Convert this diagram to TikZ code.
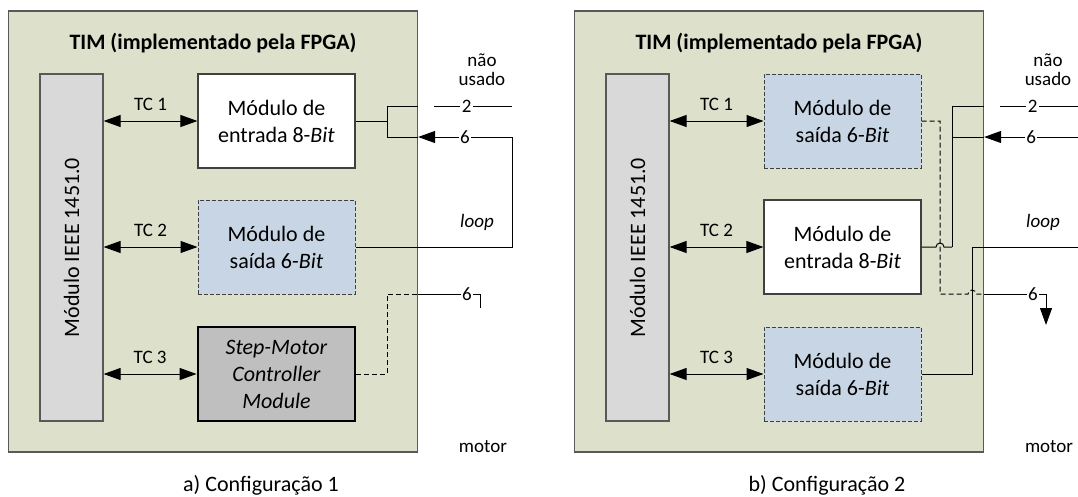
\documentclass[tikz,border=0pt]{standalone}
\usepackage{fontspec}
\setmainfont{Carlito}
\usepackage{tikz}
\usetikzlibrary{arrows.meta}
\definecolor{timfill}{RGB}{221,225,204}
\definecolor{colfill}{RGB}{217,217,217}
\definecolor{outfill}{RGB}{200,213,228}
\definecolor{motfill}{RGB}{191,191,191}
\definecolor{edge}{RGB}{89,89,89}
\newcommand{\bigtxt}{\fontsize{22}{27}\selectfont}
\newcommand{\smalltxt}{\fontsize{19}{19}\selectfont}
\tikzstyle{frame}=[draw=edge, line width=1.2pt, fill=timfill, minimum width=409pt, minimum height=441pt, inner sep=0pt]
\tikzstyle{heading}=[font=\bigtxt\bfseries]
\tikzstyle{ieee}=[draw=edge, line width=1.2pt, fill=colfill, minimum width=63pt, minimum height=347pt, inner sep=0pt, font=\bigtxt]
\tikzstyle{modin}=[draw=black!75, line width=1.2pt, fill=white, minimum width=157pt, minimum height=94pt, inner sep=0pt, align=center, font=\bigtxt]
\tikzstyle{modout}=[modin, fill=outfill, line width=1pt, dash pattern=on 4pt off 2pt]
\tikzstyle{modmot}=[modin, fill=motfill, draw=black, line width=2.8pt]
\tikzstyle{tclbl}=[font=\smalltxt, midway, above=7pt]
\tikzstyle{num}=[font=\smalltxt, fill=white, inner sep=1.5pt]
\tikzstyle{lbl}=[font=\smalltxt, align=center]
\tikzstyle{wire}=[line width=1pt]
\tikzstyle{dwire}=[wire, dash pattern=on 5pt off 3pt]

\begin{document}
\begin{tikzpicture}[x=1pt, y=-1pt, >={Triangle[length=17pt,width=12pt]}]
\useasboundingbox (0,0) rectangle (1078,496);
% a) Configuracao 1
\node[frame] (aframe) at (213,231.5) {};
\node[heading] (atitle) at (213,43) {TIM (implementado pela FPGA)};
\node[ieee] (acol) at (71.5,247.5) {\rotatebox{90}{Módulo IEEE 1451.0}};
\node[modin] (ain) at (276.5,121) {Módulo de\\entrada 8-\textit{Bit}};
\node[modout] (aout) at (276.5,247) {Módulo de\\saída 6-\textit{Bit}};
\node[modmot] (amot) at (276.5,374) {\textit{Step-Motor}\\\textit{Controller}\\\textit{Module}};
\draw[wire, <->] (acol.east |- ain) -- node[tclbl] {TC 1} (ain);
\draw[wire, <->] (acol.east |- aout) -- node[tclbl] {TC 2} (aout);
\draw[wire, <->] (acol.east |- amot) -- node[tclbl] {TC 3} (amot);
\coordinate (ajt) at (387,106);
\coordinate (ajb) at (387,137);
\coordinate (a2) at (434,106);
\coordinate (aloop) at (512,137);
\coordinate (amotor) at (480,294);
\draw[wire] (ain) -- (ain -| ajt);
\draw[wire] (ajt) -- (ajb);
\draw[wire] (ajt) -- (ajt -| aframe.east);
\draw[wire] (ajb) -- (ajb -| aframe.east);
\draw[wire] (a2) -- node[num, pos=.42] {2} (a2 -| aloop);
\draw[wire, ->] (aloop) -- node[num] {6} (aloop -| aframe.east);
\draw[wire] (aloop) |- (aout);
\draw[dwire] (amot) -| (ajt |- amotor) -- (aframe.east |- amotor);
\draw[wire] (aframe.east |- amotor) -- node[num, pos=.79] {6} (amotor) -- ++(0,14);
\node[lbl] (anao) at (482,70) {não\\usado};
\node[lbl, font=\smalltxt\itshape] (aloopl) at (477,222) {loop};
\node[lbl] (amotorl) at (483,447) {motor};
\node[font=\bigtxt] (acap) at (261,485) {a) Configuração 1};

% b) Configuracao 2
\begin{scope}[xshift=566pt]
\node[frame] (bframe) at (213,231.5) {};
\node[heading] (btitle) at (213,43) {TIM (implementado pela FPGA)};
\node[ieee] (bcol) at (71.5,247.5) {\rotatebox{90}{Módulo IEEE 1451.0}};
\node[modout] (bout1) at (276.5,121) {Módulo de\\saída 6-\textit{Bit}};
\node[modin] (bin) at (276.5,247) {Módulo de\\entrada 8-\textit{Bit}};
\node[modout] (bout2) at (276.5,374) {Módulo de\\saída 6-\textit{Bit}};
\draw[wire, <->] (bcol.east |- bout1) -- node[tclbl] {TC 1} (bout1);
\draw[wire, <->] (bcol.east |- bin) -- node[tclbl] {TC 2} (bin);
\draw[wire, <->] (bcol.east |- bout2) -- node[tclbl] {TC 3} (bout2);
\coordinate (bjt) at (386,106);
\coordinate (bjb) at (386,137);
\coordinate (bdash) at (374,294);
\coordinate (bup) at (406,247);
\coordinate (bhop1) at (370,247);
\coordinate (bhop2) at (402,294);
\coordinate (b2) at (434,106);
\coordinate (bloop) at (512,137);
\coordinate (bmotor) at (480,294);
\draw[wire] (bjt) -- (bjt |- bin);
\draw[wire] (bjt) -- (bjt -| bframe.east);
\draw[wire] (bjb) -- (bjb -| bframe.east);
\draw[wire] (b2) -- node[num, pos=.42] {2} (b2 -| bloop);
\draw[wire, ->] (bloop) -- node[num] {6} (bloop -| bframe.east);
% entrada salta a linha tracejada
\draw[wire] (bin) -- (bhop1) arc[start angle=180, end angle=0, radius=4pt] -- (bjt |- bin);
\draw[dwire] (bout1) -| (bdash) -- (bhop2) arc[start angle=180, end angle=0, radius=4pt] -- (bframe.east |- bdash);
\draw[wire] (bframe.east |- bdash) -- node[num, pos=.79] {6} (bmotor);
\draw[wire, ->] (bmotor) -- ++(0,31);
\draw[wire] (bloop |- bin) -- (bup) |- (bout2);
\node[lbl] (bnao) at (482,70) {não\\usado};
\node[lbl, font=\smalltxt\itshape] (bloopl) at (477,222) {loop};
\node[lbl] (bmotorl) at (483,447) {motor};
\node[font=\bigtxt] (bcap) at (261,485) {b) Configuração 2};
\end{scope}
\end{tikzpicture}
\end{document}
